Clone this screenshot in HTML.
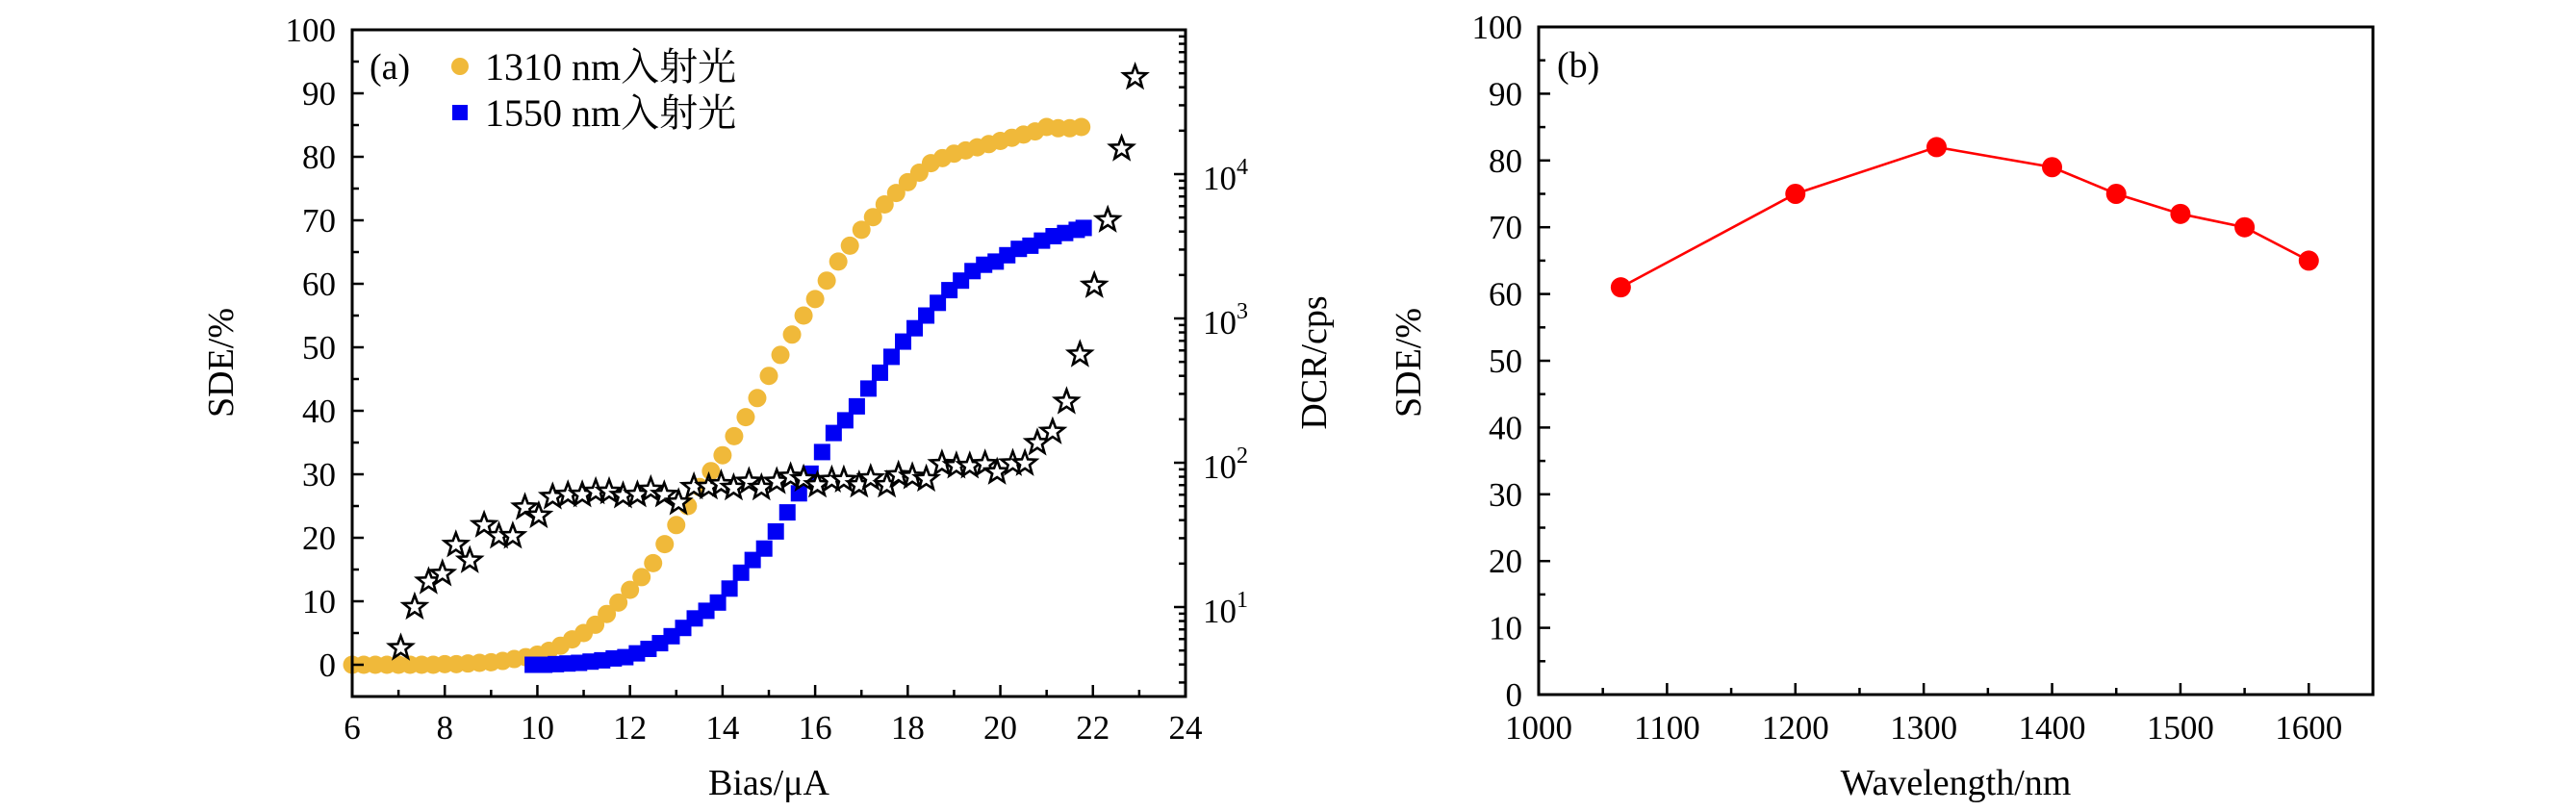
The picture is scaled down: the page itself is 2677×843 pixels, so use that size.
<!DOCTYPE html>
<html><head><meta charset="utf-8"><style>
html,body{margin:0;padding:0;background:#fff;}
svg{display:block;font-family:"Liberation Serif","Noto Serif CJK SC",serif;}
</style></head><body>
<svg id="chart" width="2677" height="843" viewBox="0 0 2677 843" xmlns="http://www.w3.org/2000/svg"></svg>
<script>
// ---- Panel (a) data ----
const biasOrange = [6,6.25,6.5,6.75,7,7.25,7.5,7.75,8,8.25,8.5,8.75,9,9.25,9.5,9.75,10,10.25,10.5,10.75,11,11.25,11.5,11.75,12,12.25,12.5,12.75,13,13.25,13.5,13.75,14,14.25,14.5,14.75,15,15.25,15.5,15.75,16,16.25,16.5,16.75,17,17.25,17.5,17.75,18,18.25,18.5,18.75,19,19.25,19.5,19.75,20,20.25,20.5,20.75,21,21.25,21.5,21.75];
const sde1310 = [0,0,0,0,0,0,0,0,0.1,0.1,0.2,0.3,0.4,0.6,0.9,1.2,1.6,2.2,3,4,5,6.3,8,9.8,11.8,13.8,16,19,22,25,28,30.5,33,36,39,42,45.5,48.8,52,55,57.6,60.5,63.5,66,68.5,70.5,72.5,74.3,76,77.5,79,79.8,80.5,81,81.5,82,82.5,83,83.5,84,84.7,84.5,84.5,84.7];
const biasBlue = [9.9,10.15,10.4,10.65,10.9,11.15,11.4,11.65,11.9,12.15,12.4,12.65,12.9,13.15,13.4,13.65,13.9,14.15,14.4,14.65,14.9,15.15,15.4,15.65,15.9,16.15,16.4,16.65,16.9,17.15,17.4,17.65,17.9,18.15,18.4,18.65,18.9,19.15,19.4,19.65,19.9,20.15,20.4,20.65,20.9,21.15,21.4,21.65,21.8];
const sde1550 = [0,0,0.1,0.2,0.3,0.5,0.7,1,1.2,1.8,2.5,3.4,4.5,5.8,7.3,8.5,9.8,12,14.5,16.5,18.3,21,24,27,30.1,33.5,36.5,38.5,40.7,43.5,46,48.5,50.9,53,55,57,59,60.5,62,63,63.5,64.5,65.5,66,66.8,67.5,68,68.5,68.8];
const biasStar = [7.05,7.35,7.65,7.95,8.24,8.54,8.85,9.17,9.47,9.73,10.03,10.33,10.66,10.97,11.26,11.55,11.85,12.16,12.45,12.74,13.05,13.38,13.7,13.97,14.24,14.57,14.84,15.17,15.47,15.75,16.05,16.36,16.62,16.95,17.2,17.55,17.8,18.1,18.4,18.74,19.05,19.34,19.67,19.93,20.27,20.53,20.8,21.13,21.43,21.72,22.03,22.32,22.62,22.91];
const dcr = [5.2,10,15,17,27,21,37,31,31,49,43,58,60,60,63,63,59,60,65,60,53,68,68,71,67,74,67,74,80,77,70,76,76,70,78,70,82,80,77,98,95,95,98,86,99,99,137,164,265,562,1690,4800,15000,47000];
// ---- Panel (b) data ----
const wavelength = [1064,1200,1310,1400,1450,1500,1550,1600];
const sdeWave = [61,75,82,79,75,72,70,65];
const xTicksA = [6,8,10,12,14,16,18,20,22,24];
const yTicksA = [0,10,20,30,40,50,60,70,80,90,100];
const yTicksR = [1,2,3,4];
const xTicksB = [1000,1100,1200,1300,1400,1500,1600];
const yTicksB = [0,10,20,30,40,50,60,70,80,90,100];

const NS = "http://www.w3.org/2000/svg";
const svg = document.getElementById('chart');
function mk(tag, attrs, parent, text){
  const e = document.createElementNS(NS, tag);
  for (const k in attrs) e.setAttribute(k, attrs[k]);
  if (text !== undefined) e.textContent = text;
  (parent || svg).appendChild(e);
  return e;
}
const A = {l:366, r:1232, t:31, b:724};
const xa = v => A.l + (v-6)/(24-6)*(A.r-A.l);
const ya = v => 691 - 6.6*v;
const yr = v => 631 - 150*(Math.log10(v)-1);
const B = {l:1599, r:2466, t:28, b:722};
const xb = v => B.l + (v-1000)/650*(B.r-B.l);
const yb = v => B.b - v/100*(B.b-B.t);
const TF = 35;

// ----- Panel a -----
const ga = mk('g', {});


const gO = mk('g', {fill:'#f0b93a'}, ga);


biasOrange.forEach((x,i)=>{
  const c = mk('circle', {cx:xa(x), cy:ya(sde1310[i]), r:9.5}, gO);
  
  
});
const gB = mk('g', {fill:'#0000f5'}, ga);


biasBlue.forEach((x,i)=>{
  const s = mk('rect', {x:xa(x)-8.5, y:ya(sde1550[i])-8.5, width:17, height:17}, gB);
  
  
});
function starPath(cx, cy, R){
  const r = R*0.42; let d = '';
  for (let k=0;k<10;k++){
    const a = -Math.PI/2 + k*Math.PI/5;
    const rr = k%2===0 ? R : r;
    d += (k===0?'M':'L') + (cx+rr*Math.cos(a)).toFixed(1) + ',' + (cy+rr*Math.sin(a)).toFixed(1);
  }
  return d + 'Z';
}
const gS = mk('g', {fill:'#fff', stroke:'#000', 'stroke-width':2.6, 'stroke-linejoin':'miter'}, ga);


biasStar.forEach((x,i)=>{
  const p = mk('path', {d:starPath(xa(x), yr(dcr[i]), 12.5)}, gS);
  
  
});
const fa = mk('rect', {x:A.l, y:A.t, width:A.r-A.l, height:A.b-A.t, fill:'none', stroke:'#000', 'stroke-width':3}, ga);


const tk = mk('g', {stroke:'#000', 'stroke-width':2.5}, ga);


for (let v=7; v<24; v++){ const L = v%2===0?12:7; mk('line',{x1:xa(v),x2:xa(v),y1:A.b,y2:A.b-L},tk); }
for (let v=-5; v<=100; v+=5){ const L = v%10===0?12:7; mk('line',{x1:A.l,x2:A.l+L,y1:ya(v),y2:ya(v)},tk); }
for (let e=0; e<=4; e++){
  for (let m=1;m<10;m++){
    const v = m*Math.pow(10,e);
    const y = yr(v);
    if (y>A.b || y<A.t) continue;
    const L = m===1?12:7;
    mk('line',{x1:A.r,x2:A.r-L,y1:y,y2:y},tk);
  }
}
xTicksA.forEach(v=>{
  const t = mk('text', {x:xa(v), y:768, 'font-size':TF, 'text-anchor':'middle'}, ga, String(v));
  
  
});
yTicksA.forEach(v=>{
  const t = mk('text', {x:349, y:ya(v)+12, 'font-size':TF, 'text-anchor':'end'}, ga, String(v));
  
  
});
yTicksR.forEach(e=>{
  const t = mk('text', {x:1250, y:yr(Math.pow(10,e))+16, 'font-size':TF}, ga);
  
  
  mk('tspan', {}, t, '10');
  mk('tspan', {'font-size':24, dy:-16}, t, String(e));
});
let tt = mk('text', {x:(A.l+A.r)/2, y:826, 'font-size':38, 'text-anchor':'middle'}, ga, 'Bias/μA');


tt = mk('text', {x:0, y:0, 'font-size':38, 'text-anchor':'middle', transform:'translate(242,377) rotate(-90)'}, ga, 'SDE/%');


tt = mk('text', {x:0, y:0, 'font-size':38, 'text-anchor':'middle', transform:'translate(1378,377) rotate(-90)'}, ga, 'DCR/cps');


tt = mk('text', {x:384, y:82, 'font-size':38}, ga, '(a)');


const lg = mk('g', {}, ga);


let le = mk('g', {}, lg);


mk('circle', {cx:478, cy:69, r:9, fill:'#f0b93a'}, le);
mk('text', {x:504, y:83, 'font-size':40}, le, '1310 nm入射光');
le = mk('g', {}, lg);


mk('rect', {x:470, y:109, width:16, height:16, fill:'#0000f5'}, le);
mk('text', {x:504, y:131, 'font-size':40}, le, '1550 nm入射光');

// ----- Panel b -----
const gbp = mk('g', {});


const fb = mk('rect', {x:B.l, y:B.t, width:B.r-B.l, height:B.b-B.t, fill:'none', stroke:'#000', 'stroke-width':3}, gbp);


const tkb = mk('g', {stroke:'#000', 'stroke-width':2.5}, gbp);


for (let v=1050; v<1650; v+=50){ const L = v%100===0?12:7; mk('line',{x1:xb(v),x2:xb(v),y1:B.b,y2:B.b-L},tkb); }
for (let v=5; v<100; v+=5){ const L = v%10===0?12:7; mk('line',{x1:B.l,x2:B.l+L,y1:yb(v),y2:yb(v)},tkb); }
xTicksB.forEach(v=>{
  const t = mk('text', {x:xb(v), y:768, 'font-size':TF, 'text-anchor':'middle'}, gbp, String(v));
  
  
});
yTicksB.forEach(v=>{
  const t = mk('text', {x:1582, y:yb(v)+12, 'font-size':TF, 'text-anchor':'end'}, gbp, String(v));
  
  
});
const line = mk('polyline', {points: wavelength.map((w,i)=>xb(w)+','+yb(sdeWave[i])).join(' '), fill:'none', stroke:'#f00', 'stroke-width':2.6}, gbp);


wavelength.forEach((w,i)=>{
  const c = mk('circle', {cx:xb(w), cy:yb(sdeWave[i]), r:10.5, fill:'#f00'}, gbp);
  
  
});
tt = mk('text', {x:(B.l+B.r)/2, y:826, 'font-size':38, 'text-anchor':'middle'}, gbp, 'Wavelength/nm');


tt = mk('text', {x:0, y:0, 'font-size':38, 'text-anchor':'middle', transform:'translate(1476,377) rotate(-90)'}, gbp, 'SDE/%');


tt = mk('text', {x:1618, y:80, 'font-size':38}, gbp, '(b)');


</script>
</body></html>
